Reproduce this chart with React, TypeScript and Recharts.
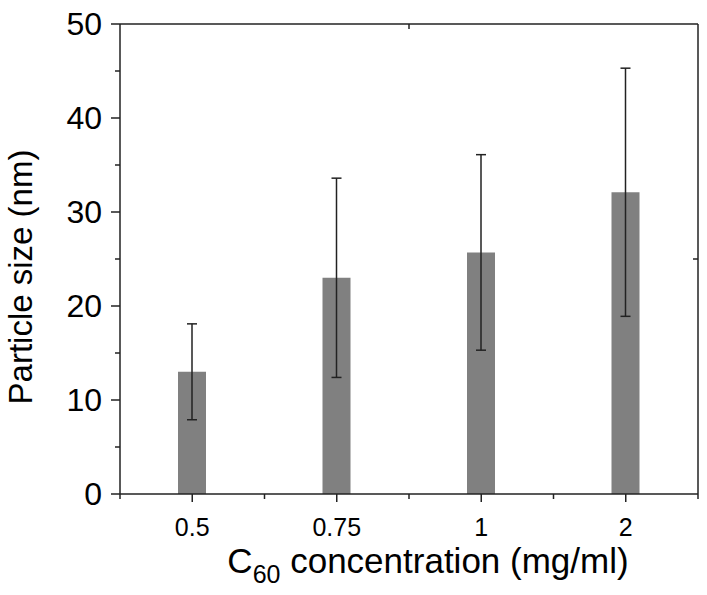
import { ComposedChart, Bar, Line, XAxis, YAxis, ErrorBar, Label } from "recharts";

// values
const concentrations = ["0.5", "0.75", "1", "2"];
const particleSize = [13.0, 23.0, 25.7, 32.1];
const sizeError = [5.1, 10.6, 10.4, 13.2];
const yTicks = [0, 5, 10, 15, 20, 25, 30, 35, 40, 45, 50];
const yMajorTicks = [0, 10, 20, 30, 40, 50];
const rightTicks = [25];
const yMax = 50;

const W = 707;
const H = 595;
const margin = { top: 23, right: 8, bottom: 0, left: 0 };
const yAxisWidth = 120;
const xAxisHeight = 101;
const frameAxis = 1; // size of the top / right axes
const plotW = W - margin.left - margin.right - frameAxis - yAxisWidth;
const plotH = H - margin.top - margin.bottom - frameAxis - xAxisHeight;
const band = plotW / concentrations.length;

const FONT = '"Liberation Sans", Arial, Helvetica, sans-serif';
const AXIS = "#222";
const LINE_W = 1.5;

const data = concentrations.map((name, i) => ({
  name,
  size: particleSize[i],
  err: sizeError[i],
}));

const YTick = ({ x, y, payload }: any) => {
  const major = yMajorTicks.includes(payload.value);
  return (
    <g>
      <line x1={x - (major ? 9 : 5)} x2={x} y1={y} y2={y} stroke={AXIS} strokeWidth={LINE_W} />
      {/* top edge of the frame, hung on the highest tick */}
      {payload.value === yMax && (
        <line x1={x} x2={x + plotW} y1={y} y2={y} stroke={AXIS} strokeWidth={LINE_W} />
      )}
      {major && (
        <text x={x - 18} y={y + 11} textAnchor="end" fontSize={32} fontFamily={FONT} fill="#000">
          {payload.value}
        </text>
      )}
    </g>
  );
};

const XTick = ({ x, y, payload, index }: any) => (
  <g>
    <line x1={x} x2={x} y1={y} y2={y + 8} stroke={AXIS} strokeWidth={LINE_W} />
    <line x1={x + band / 2} x2={x + band / 2} y1={y} y2={y + 5} stroke={AXIS} strokeWidth={LINE_W} />
    {index === 0 && (
      <line x1={x - band / 2} x2={x - band / 2} y1={y} y2={y + 5} stroke={AXIS} strokeWidth={LINE_W} />
    )}
    {/* right edge of the frame, hung on the last category */}
    {index === concentrations.length - 1 && (
      <line x1={x + band / 2} x2={x + band / 2} y1={y} y2={y - plotH} stroke={AXIS} strokeWidth={LINE_W} />
    )}
    <text x={x} y={y + 42} textAnchor="middle" fontSize={25} fontFamily={FONT} fill="#000">
      {payload.value}
    </text>
  </g>
);

// the top frame only carries one stray minor tick in the original
const TopTick = ({ x, y, index }: any) =>
  index === 1 ? (
    <line x1={x + band / 2} x2={x + band / 2} y1={y} y2={y + 5} stroke={AXIS} strokeWidth={LINE_W} />
  ) : (
    <g />
  );

const RightTick = ({ x, y }: any) => (
  <line x1={x - 5} x2={x} y1={y} y2={y} stroke={AXIS} strokeWidth={LINE_W} />
);

const XTitle = (props: any) => {
  const vb = props.viewBox || { x: yAxisWidth, y: H - xAxisHeight, width: plotW, height: xAxisHeight };
  const cx = vb.x + vb.width / 2 + 19;
  const by = vb.y + 79;
  return (
    <text x={cx} y={by} textAnchor="middle" fontSize={35} fontFamily={FONT} fill="#000">
      C
      <tspan dy={10} fontSize={25}>60</tspan>
      <tspan dy={-10}> concentration (mg/ml)</tspan>
    </text>
  );
};

const YTitle = (props: any) => {
  const vb = props.viewBox || { x: 0, y: margin.top + frameAxis, width: yAxisWidth, height: plotH };
  const x = vb.x + 32;
  const y = vb.y + vb.height / 2 + 18;
  return (
    <text
      x={x}
      y={y}
      transform={`rotate(-90, ${x}, ${y})`}
      textAnchor="middle"
      fontSize={33}
      fontFamily={FONT}
      fill="#000"
    >
      Particle size (nm)
    </text>
  );
};

export default function App() {
  return (
    <div style={{ position: "absolute", left: 0, top: 0, width: W, height: H, background: "#fff" }}>
      <ComposedChart width={W} height={H} data={data} margin={margin}>
        <XAxis
          dataKey="name"
          interval={0}
          height={xAxisHeight}
          tickLine={false}
          tickSize={0}
          tickMargin={0}
          tick={<XTick />}
          axisLine={{ stroke: AXIS, strokeWidth: LINE_W }}
        >
          <Label content={<XTitle />} />
        </XAxis>
        <XAxis
          xAxisId="top"
          dataKey="name"
          orientation="top"
          height={frameAxis}
          interval={0}
          tickLine={false}
          tickSize={0}
          tickMargin={0}
          tick={<TopTick />}
          axisLine={false}
        />
        <YAxis
          domain={[0, yMax]}
          ticks={yTicks}
          interval={0}
          width={yAxisWidth}
          tickLine={false}
          tickSize={0}
          tickMargin={0}
          tick={<YTick />}
          axisLine={{ stroke: AXIS, strokeWidth: LINE_W }}
        >
          <Label content={<YTitle />} />
        </YAxis>
        <YAxis
          yAxisId="right"
          orientation="right"
          domain={[0, yMax]}
          ticks={rightTicks}
          width={frameAxis}
          tickLine={false}
          tickSize={0}
          tickMargin={0}
          tick={<RightTick />}
          axisLine={false}
        />
        <Bar dataKey="size" fill="#808080" barSize={28} isAnimationActive={false}>
          <ErrorBar dataKey="err" width={5} stroke={AXIS} strokeWidth={LINE_W} direction="y" />
        </Bar>
        {/* invisible series so the top and right axes get drawn */}
        <Line
          xAxisId="top"
          yAxisId="right"
          dataKey="size"
          stroke="none"
          dot={false}
          activeDot={false}
          legendType="none"
          isAnimationActive={false}
        />
      </ComposedChart>
    </div>
  );
}
